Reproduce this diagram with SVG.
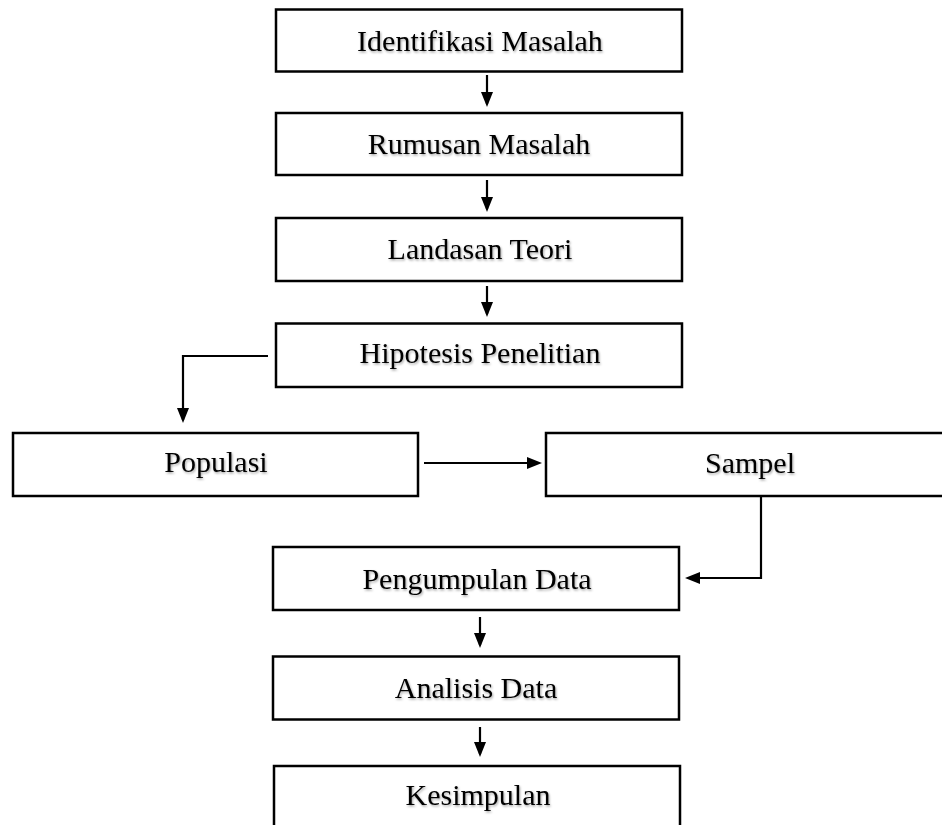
<svg xmlns="http://www.w3.org/2000/svg" width="942" height="825" viewBox="0 0 942 825">
  <defs>
    <marker id="ah" markerUnits="userSpaceOnUse" markerWidth="15" markerHeight="13" refX="12" refY="6.5" orient="auto">
      <path d="M0,0.5 L15,6.5 L0,12.5 Z" fill="#000"/>
    </marker>
    <filter id="sh" x="-5%" y="-20%" width="110%" height="150%">
      <feDropShadow dx="1" dy="1.5" stdDeviation="0.8" flood-color="#000" flood-opacity="0.35"/>
    </filter>
  </defs>
  <style>
    .box { fill: #fff; stroke: #000; stroke-width: 2.5; }
    .lbl { font-family: "Liberation Serif", "Times New Roman", serif; font-size: 30px; fill: #000; text-anchor: middle; filter: url(#sh); }
    .con { fill: none; stroke: #000; stroke-width: 2.2; marker-end: url(#ah); }
  </style>
  <rect width="942" height="825" fill="#fff"/>

  <g id="identifikasi">
    <rect class="box" x="276" y="9.5" width="406" height="62"/>
    <text class="lbl" x="480" y="51">Identifikasi Masalah</text>
  </g>
  <g id="rumusan">
    <rect class="box" x="276" y="113" width="406" height="62"/>
    <text class="lbl" x="479" y="154">Rumusan Masalah</text>
  </g>
  <g id="landasan">
    <rect class="box" x="276" y="218" width="406" height="63"/>
    <text class="lbl" x="480" y="259">Landasan Teori</text>
  </g>
  <g id="hipotesis">
    <rect class="box" x="276" y="323.5" width="406" height="63.5"/>
    <text class="lbl" x="480" y="363">Hipotesis Penelitian</text>
  </g>
  <g id="populasi">
    <rect class="box" x="13" y="433" width="405" height="63"/>
    <text class="lbl" x="216" y="472">Populasi</text>
  </g>
  <g id="sampel">
    <rect class="box" x="546" y="433" width="410" height="63"/>
    <text class="lbl" x="750" y="473">Sampel</text>
  </g>
  <g id="pengumpulan">
    <rect class="box" x="273" y="547" width="406" height="63"/>
    <text class="lbl" x="477" y="589">Pengumpulan Data</text>
  </g>
  <g id="analisis">
    <rect class="box" x="273" y="656.5" width="406" height="63"/>
    <text class="lbl" x="476" y="698">Analisis Data</text>
  </g>
  <g id="kesimpulan">
    <rect class="box" x="274" y="766" width="406" height="80"/>
    <text class="lbl" x="478" y="805">Kesimpulan</text>
  </g>

  <g id="connectors">
    <path class="con" d="M487,75 L487,104"/>
    <path class="con" d="M487,180 L487,209"/>
    <path class="con" d="M487,286 L487,314"/>
    <path class="con" d="M268,356 L183,356 L183,420"/>
    <path class="con" d="M424,463 L539,463"/>
    <path class="con" d="M761,496 L761,578 L688,578"/>
    <path class="con" d="M480,617 L480,645"/>
    <path class="con" d="M480,727 L480,754"/>
  </g>
</svg>
